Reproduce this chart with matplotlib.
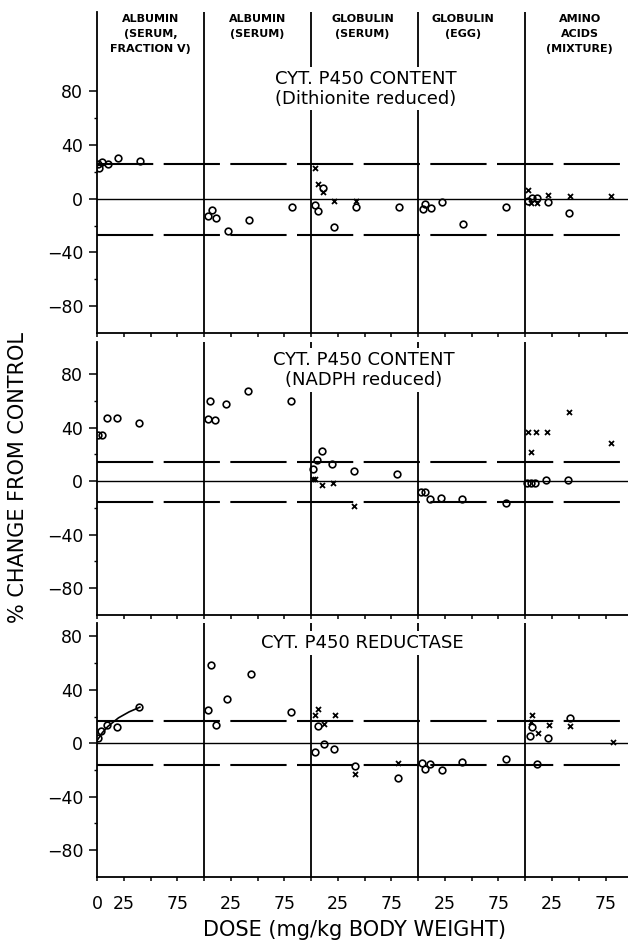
import numpy as np
import matplotlib
matplotlib.use("Agg")
from matplotlib import pyplot as plt
from matplotlib.ticker import FixedLocator

# encabezados de cada columna (cada columna = 0..100 mg/kg)
grupos = ["ALBUMIN\n(SERUM,\nFRACTION \u2164)", "ALBUMIN\n(SERUM)", "GLOBULIN\n(SERUM)",
          "GLOBULIN\n(EGG)", "AMINO\nACIDS\n(MIXTURE)"]
grupo_centro = [50, 150, 248, 342, 451]

dosis_ticks = list(range(0, 500, 25))
dosis_labels = ["0", "25", "", "75"] + ["", "25", "", "75"] * 4

titulos = ["CYT. P450 CONTENT\n(Dithionite reduced)", "CYT. P450 CONTENT\n(NADPH reduced)",
           "CYT. P450 REDUCTASE"]

# panel 1: dithionite
p1_o_dosis = [[1, 2, 5, 10, 20, 40], [3.5, 7, 11.5, 22, 41.5, 82], [3.7, 6.8, 11.5, 21.5, 41.8, 82],
              [4.3, 6.8, 12, 22, 41.8, 82.4], [2.5, 6.5, 11.2, 21.2, 40.8]]
p1_o_pct = [[26, 23, 27, 26, 30, 28], [-12.6, -8.4, -14.6, -23.8, -15.9, -6.4], [-4.7, -9, 7.7, -21, -6.5, -6.5],
            [-7.7, -4, -7, -2.3, -19, -5.8], [-1.5, 0.2, 0.2, -2.7, -10.6]]
p1_x_dosis = [[], [], [3.7, 6.8, 11.5, 21.5, 41.8], [], [2.5, 5.6, 11, 21.2, 41.5, 80.4]]
p1_x_pct = [[], [], [22.5, 11, 4.7, -1.5, -2], [], [6.4, -3.2, -3.2, 3, 2.2, 2.2]]
p1_banda = [25.5, -27]

# panel 2: NADPH
p2_o_dosis = [[1, 4.4, 9, 19, 39.5], [3.5, 5.9, 10.6, 20.8, 40.8, 81.3], [1.5, 5.2, 10.3, 19.6, 39.8, 80.4],
              [2.8, 6.8, 11.5, 21.5, 41, 81.6], [1.9, 5.2, 9.3, 19.6, 39.8]]
p2_o_pct = [[34.6, 34.6, 47, 47, 43.5], [46.4, 60, 45.7, 57.5, 67.4, 60], [9.4, 16, 22.5, 13, 7.6, 5.2],
            [-8.4, -8.4, -13.3, -12.8, -13.6, -16], [-1.2, -1.2, -1.2, 1.2, 0.7]]
p2_x_dosis = [[], [], [2, 4, 10.3, 20.2, 39.8], [], [2.4, 5.2, 10.3, 20.3, 40.5, 79.7]]
p2_x_pct = [[], [], [1.5, 1.5, -3, -1.2, -18.5], [], [37, 21.5, 37, 37, 51.9, 28.7]]
p2_banda = [14.7, -15.5]

# panel 3: reductasa
p3_o_dosis = [[1.2, 3.7, 9, 19, 39], [3.7, 6.5, 10.8, 21, 43.5, 81.6], [6, 3.7, 11.6, 21.5, 41.1, 81],
              [3.7, 6.2, 11.5, 21.8, 41.4, 81.6], [4.4, 6.5, 11.2, 21.2, 41.4]]
p3_o_pct = [[3.8, 9.3, 13.6, 11.9, 27], [24.7, 58.9, 13.9, 32.8, 51.8, 23.7], [12.6, -6.3, -0.5, -4.3, -17, -26],
            [-15, -19, -15.6, -20, -13.9, -12], [5.8, 12, -15.7, 3.8, 19]]
p3_x_dosis = [[], [], [3.2, 6, 11.6, 21.9, 41.1, 81], [], [5, 6.5, 11.9, 21.8, 42, 82]]
p3_x_pct = [[], [], [21.5, 25.8, 14.6, 21.5, -23, -14.6], [], [16, 21, 7.6, 13.4, 12.6, 1.3]]
p3_banda = [16.5, -16.5]
p3_curva_dosis = [0, 5, 10, 20, 30, 40]
p3_curva_pct = [2, 8, 12.5, 19, 23.5, 27]

paneles = [
    (p1_o_dosis, p1_o_pct, p1_x_dosis, p1_x_pct, p1_banda),
    (p2_o_dosis, p2_o_pct, p2_x_dosis, p2_x_pct, p2_banda),
    (p3_o_dosis, p3_o_pct, p3_x_dosis, p3_x_pct, p3_banda),
]

fig = plt.figure(figsize=(6.28, 9.44), dpi=100)
rects = [[0.1545, 0.6472, 0.8455, 0.3401], [0.1545, 0.3485, 0.8455, 0.2892], [0.1545, 0.0710, 0.8455, 0.2691]]
ylims = [(-100, 139), (-100, 104), (-100, 90)]
titulo_pos = [(251, 82), (249.5, 83), (248, 75)]

for k in range(3):
    ax = fig.add_axes(rects[k])
    o_d, o_p, x_d, x_p, banda = paneles[k]
    ax.set_xlim(0, 496)
    ax.set_ylim(*ylims[k])

    # lineas de referencia
    ax.axhline(0, color="k", lw=1.0, zorder=1)
    for b in banda:
        ax.axhline(b, color="k", lw=1.5, linestyle=(0, (27, 5)), zorder=1)
    for g in range(1, 5):
        ax.axvline(100 * g, color="k", lw=1.3, zorder=1)

    for g in range(5):
        xo = 100 * g + np.array(o_d[g], dtype=float)
        ax.plot(xo, o_p[g], "o", ms=4.8, mfc="none", mec="k", mew=1.2, zorder=3)
        if len(x_d[g]) > 0:
            xx = 100 * g + np.array(x_d[g], dtype=float)
            ax.plot(xx, x_p[g], "x", ms=3.6, mec="k", mew=1.3, zorder=3)

    if k == 2:
        ax.plot(p3_curva_dosis, p3_curva_pct, "-", color="k", lw=1.2, zorder=2)

    tx, ty = titulo_pos[k]
    ax.text(tx, ty, titulos[k], ha="center", va="center", fontsize=13, linespacing=1.15,
            bbox=dict(facecolor="white", edgecolor="none", pad=2), zorder=4)

    if k == 0:
        for g in range(5):
            ax.text(grupo_centro[g], 137.5, grupos[g], ha="center", va="top", fontsize=8,
                    fontweight="bold", linespacing=1.6, zorder=4)

    for s in ["top", "right"]:
        ax.spines[s].set_visible(False)
    ax.spines["left"].set_linewidth(1.3)
    ax.spines["bottom"].set_linewidth(1.3)

    ax.yaxis.set_major_locator(FixedLocator([-80, -40, 0, 40, 80]))
    ax.yaxis.set_minor_locator(FixedLocator([-60, -20, 20, 60]))
    ax.tick_params(axis="y", which="major", direction="out", length=6, width=1.1, labelsize=12.5, pad=4)
    ax.tick_params(axis="y", which="minor", direction="out", length=2.5, width=1.0)
    ax.xaxis.set_major_locator(FixedLocator(dosis_ticks))
    ax.tick_params(axis="x", direction="out", length=3, width=1.1, labelsize=12.5, pad=10)
    if k == 2:
        ax.set_xticklabels(dosis_labels)
    else:
        ax.set_xticklabels([])

fig.text(0.0287, 0.494, "% CHANGE FROM CONTROL", rotation=90, ha="center", va="center", fontsize=15)
fig.text(0.565, 0.0148, "DOSE (mg/kg BODY WEIGHT)", ha="center", va="center", fontsize=15)

fig.savefig("out.png", dpi=100)
